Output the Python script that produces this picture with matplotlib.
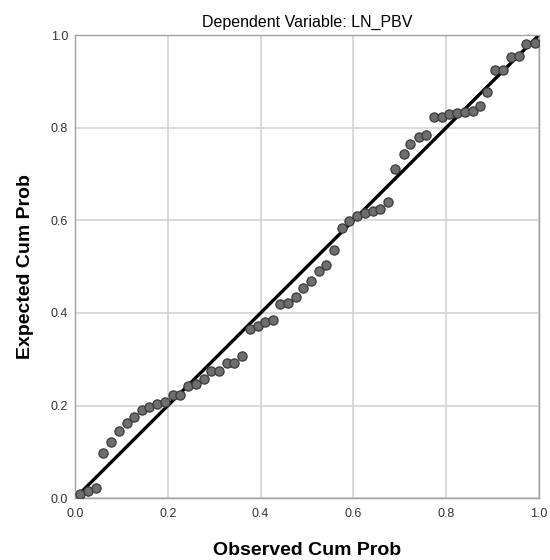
import matplotlib
matplotlib.use('Agg')
import matplotlib.pyplot as plt

plt.rcParams['font.family'] = ['Liberation Sans', 'DejaVu Sans']

# observed vs expected cumulative probability
observed = [0.011, 0.029, 0.045, 0.061, 0.078, 0.095, 0.111, 0.127, 0.144, 0.160,
            0.177, 0.194, 0.211, 0.227, 0.243, 0.260, 0.277, 0.293, 0.310, 0.327,
            0.343, 0.360, 0.377, 0.394, 0.409, 0.426, 0.442, 0.460, 0.476, 0.492,
            0.509, 0.526, 0.542, 0.559, 0.575, 0.591, 0.608, 0.625, 0.642, 0.658,
            0.675, 0.690, 0.708, 0.723, 0.741, 0.757, 0.774, 0.790, 0.807, 0.824,
            0.840, 0.857, 0.873, 0.889, 0.906, 0.923, 0.940, 0.956, 0.972, 0.991]
expected = [0.009, 0.016, 0.022, 0.098, 0.122, 0.146, 0.162, 0.176, 0.190, 0.196,
            0.203, 0.208, 0.222, 0.223, 0.243, 0.246, 0.257, 0.274, 0.274, 0.293,
            0.293, 0.308, 0.365, 0.372, 0.381, 0.385, 0.419, 0.421, 0.435, 0.453,
            0.470, 0.491, 0.503, 0.536, 0.583, 0.599, 0.610, 0.615, 0.621, 0.624,
            0.640, 0.710, 0.743, 0.764, 0.780, 0.784, 0.822, 0.822, 0.829, 0.832,
            0.833, 0.835, 0.846, 0.877, 0.924, 0.924, 0.953, 0.955, 0.980, 0.982]
ref_line = [0.0, 1.0]
ticks = [0.0, 0.2, 0.4, 0.6, 0.8, 1.0]
tick_labels = ['0.0', '0.2', '0.4', '0.6', '0.8', '1.0']

fig = plt.figure(figsize=(5.5, 5.6), dpi=100)
ax = fig.add_axes([75 / 550, 1 - 498.3 / 560, 464 / 550, 463.3 / 560])

ax.plot(ref_line, ref_line, color='black', lw=2.4, zorder=2)
ax.plot(observed, expected, 'o', ms=6.6, mfc='#6e6e6e', mec='#3a3a3a', mew=0.9, zorder=3)

ax.set_xlim(0, 1)
ax.set_ylim(0, 1)
ax.set_xticks(ticks)
ax.set_xticklabels(tick_labels)
ax.set_yticks(ticks)
ax.set_yticklabels(tick_labels)
ax.tick_params(length=0, labelsize=9, labelcolor='#333333')
ax.tick_params(axis='x', pad=7)
ax.tick_params(axis='y', pad=5)
ax.grid(True, color='#cfcfcf', lw=1.1, zorder=0)
ax.set_axisbelow(True)
for s in ax.spines.values():
    s.set_color('#a0a0a0')
    s.set_linewidth(1.0)

ax.set_title('Dependent Variable: LN_PBV', fontsize=11.5, color='black', pad=6)
ax.set_xlabel('Observed Cum Prob', fontsize=14, fontweight='bold', labelpad=16)
ax.set_ylabel('Expected Cum Prob', fontsize=14, fontweight='bold', labelpad=12)

fig.savefig('out.png', dpi=100)
